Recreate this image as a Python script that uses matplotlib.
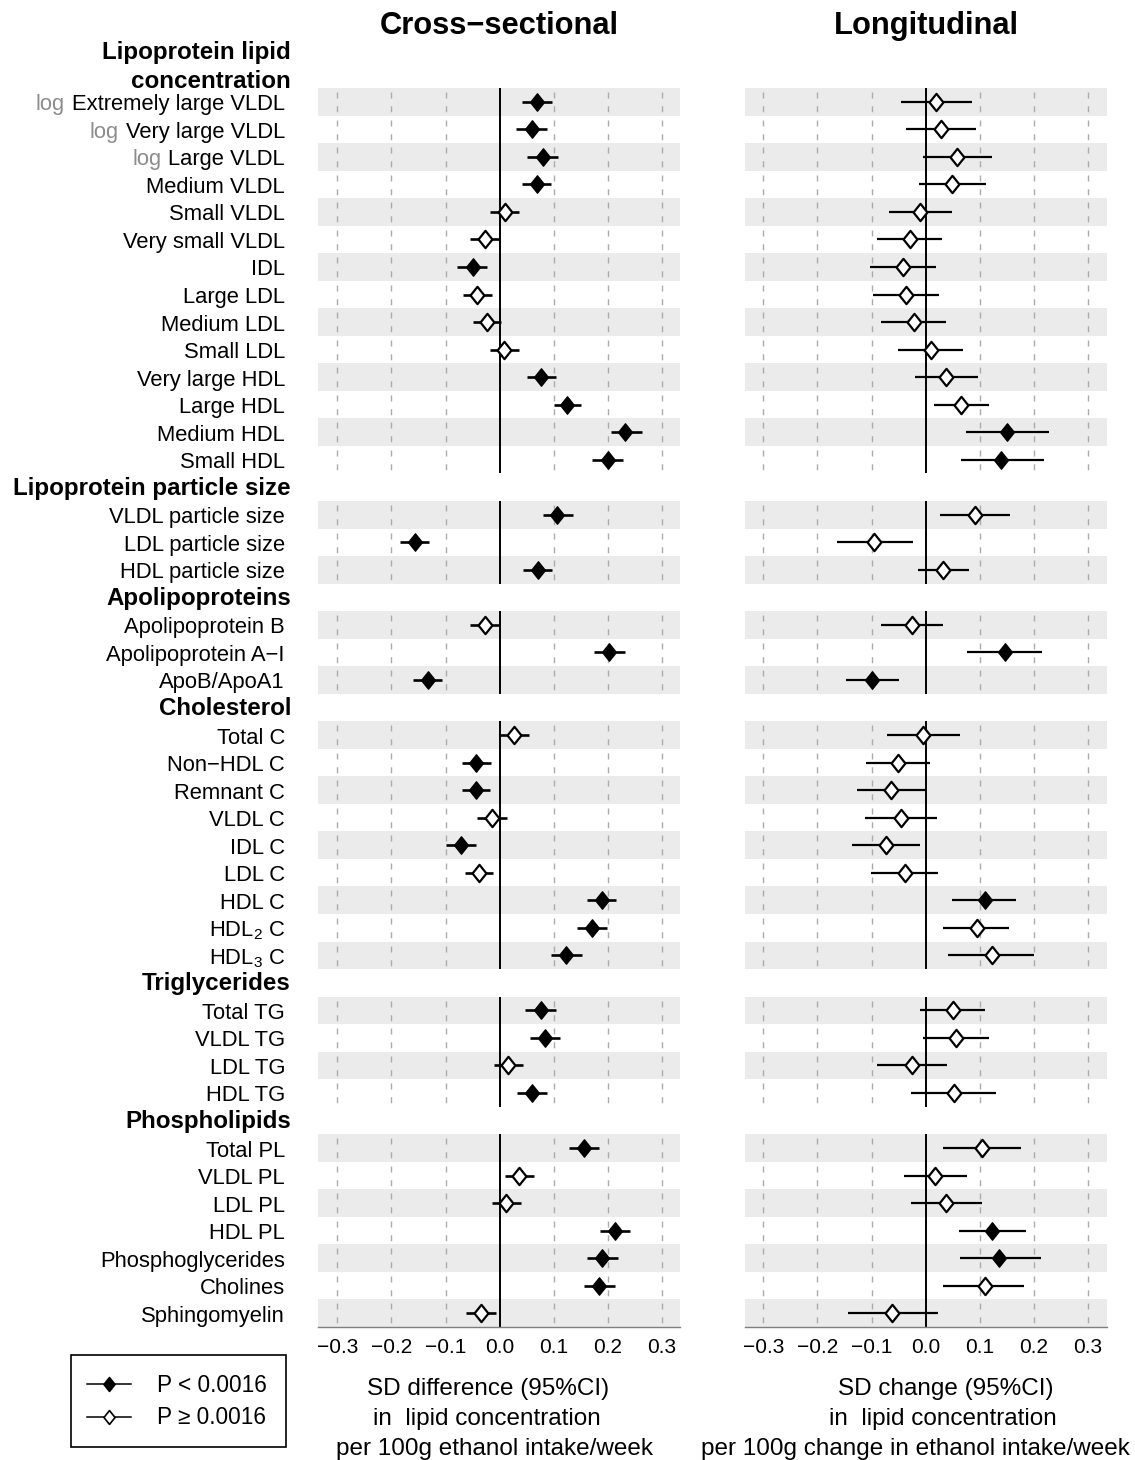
import numpy as np
import matplotlib
matplotlib.use("Agg")
import matplotlib.pyplot as plt
from matplotlib.path import Path
from matplotlib.lines import Line2D
from matplotlib.patches import Rectangle

plt.rcParams['font.family'] = ['Liberation Sans', 'DejaVu Sans']
plt.rcParams['mathtext.fontset'] = 'custom'
plt.rcParams['mathtext.rm'] = 'Liberation Sans'
plt.rcParams['lines.scale_dashes'] = False

# ---------------- data ----------------
headers = ["Lipoprotein lipid concentration", "Lipoprotein particle size",
           "Apolipoproteins", "Cholesterol", "Triglycerides", "Phospholipids"]
group_sizes = [14, 3, 3, 9, 4, 7]

labels = ["Extremely large VLDL", "Very large VLDL", "Large VLDL", "Medium VLDL",
          "Small VLDL", "Very small VLDL", "IDL", "Large LDL", "Medium LDL",
          "Small LDL", "Very large HDL", "Large HDL", "Medium HDL", "Small HDL",
          "VLDL particle size", "LDL particle size", "HDL particle size",
          "Apolipoprotein B", "Apolipoprotein A\u2212I", "ApoB/ApoA1",
          "Total C", "Non\u2212HDL C", "Remnant C", "VLDL C", "IDL C", "LDL C",
          "HDL C", r"HDL$_\mathregular{2}$ C", r"HDL$_\mathregular{3}$ C",
          "Total TG", "VLDL TG", "LDL TG", "HDL TG",
          "Total PL", "VLDL PL", "LDL PL", "HDL PL", "Phosphoglycerides",
          "Cholines", "Sphingomyelin"]
log_scaled = [True, True, True] + [False] * 37

# Cross-sectional: estimate, lower and upper 95% CI, significance
cs_est = [0.069, 0.060, 0.080, 0.069, 0.010, -0.027, -0.050, -0.042, -0.023, 0.008,
          0.077, 0.125, 0.232, 0.201,
          0.107, -0.156, 0.071,
          -0.027, 0.203, -0.133,
          0.027, -0.043, -0.043, -0.014, -0.071, -0.038, 0.190, 0.171, 0.123,
          0.076, 0.084, 0.016, 0.061,
          0.156, 0.036, 0.012, 0.214, 0.190, 0.184, -0.034]
cs_lo = [0.041, 0.031, 0.051, 0.042, -0.018, -0.055, -0.078, -0.068, -0.049, -0.018,
         0.051, 0.101, 0.206, 0.171,
         0.080, -0.185, 0.044,
         -0.055, 0.174, -0.161,
         -0.001, -0.069, -0.069, -0.042, -0.099, -0.064, 0.162, 0.144, 0.095,
         0.048, 0.056, -0.011, 0.032,
         0.128, 0.010, -0.014, 0.186, 0.162, 0.156, -0.062]
cs_hi = [0.097, 0.087, 0.108, 0.096, 0.036, 0.000, -0.023, -0.014, 0.003, 0.036,
         0.104, 0.151, 0.264, 0.228,
         0.136, -0.130, 0.097,
         0.000, 0.232, -0.106,
         0.055, -0.016, -0.017, 0.014, -0.043, -0.012, 0.216, 0.198, 0.152,
         0.104, 0.111, 0.044, 0.088,
         0.184, 0.064, 0.040, 0.241, 0.219, 0.214, -0.006]
cs_sig = [1, 1, 1, 1, 0, 0, 1, 0, 0, 0, 1, 1, 1, 1,
          1, 1, 1,
          0, 1, 1,
          0, 1, 1, 0, 1, 0, 1, 1, 1,
          1, 1, 0, 1,
          1, 0, 0, 1, 1, 1, 0]

# Longitudinal: estimate, lower and upper 95% CI, significance
lg_est = [0.020, 0.029, 0.059, 0.049, -0.010, -0.029, -0.042, -0.036, -0.021, 0.010,
          0.038, 0.065, 0.151, 0.139,
          0.092, -0.095, 0.033,
          -0.025, 0.146, -0.099,
          -0.005, -0.051, -0.064, -0.045, -0.073, -0.038, 0.110, 0.095, 0.122,
          0.050, 0.057, -0.026, 0.052,
          0.104, 0.017, 0.038, 0.123, 0.136, 0.110, -0.062]
lg_lo = [-0.045, -0.036, -0.004, -0.013, -0.068, -0.090, -0.102, -0.097, -0.083, -0.051,
         -0.020, 0.015, 0.075, 0.065,
         0.027, -0.164, -0.014,
         -0.082, 0.077, -0.148,
         -0.071, -0.110, -0.127, -0.112, -0.136, -0.101, 0.048, 0.033, 0.042,
         -0.010, -0.004, -0.090, -0.027,
         0.032, -0.040, -0.027, 0.062, 0.064, 0.032, -0.144]
lg_hi = [0.086, 0.094, 0.122, 0.111, 0.049, 0.030, 0.019, 0.025, 0.038, 0.069,
         0.097, 0.117, 0.228, 0.219,
         0.157, -0.024, 0.080,
         0.033, 0.215, -0.050,
         0.064, 0.008, 0.001, 0.021, -0.010, 0.023, 0.168, 0.155, 0.200,
         0.110, 0.117, 0.039, 0.130,
         0.176, 0.076, 0.104, 0.185, 0.213, 0.182, 0.023]
lg_sig = [0, 0, 0, 0, 0, 0, 0, 0, 0, 0, 0, 0, 1, 1,
          0, 0, 0,
          0, 1, 1,
          0, 0, 0, 0, 0, 0, 1, 0, 0,
          0, 0, 0, 0,
          0, 0, 0, 1, 1, 0, 0]

ticks = [-0.3, -0.2, -0.1, 0.0, 0.1, 0.2, 0.3]
tick_labels = ["\u22120.3", "\u22120.2", "\u22120.1", "0.0", "0.1", "0.2", "0.3"]

legend_labels = ["P < 0.0016", "P \u2265 0.0016"]

# ---------------- layout ----------------
W, H = 1135, 1460
fig = plt.figure(figsize=(W / 100, H / 100), dpi=100)

ax_top, ax_bot = 88, 1327
n_slots = 45
slot_px = (ax_bot - ax_top) / n_slots
ax_l = fig.add_axes([318 / W, 1 - ax_bot / H, 362 / W, (ax_bot - ax_top) / H])
ax_r = fig.add_axes([745 / W, 1 - ax_bot / H, 362 / W, (ax_bot - ax_top) / H])

# slot positions: a header slot precedes each group
row_y, header_y, group_rows = [], [], []
slot = 0
for g, n in enumerate(group_sizes):
    header_y.append(slot)
    slot += 1
    rows = list(range(slot, slot + n))
    group_rows.append(rows)
    row_y.extend(rows)
    slot += n
row_y = np.array(row_y, dtype=float)

diamond = Path([(0, 1), (0.8, 0), (0, -1), (-0.8, 0), (0, 1)],
               [Path.MOVETO, Path.LINETO, Path.LINETO, Path.LINETO, Path.CLOSEPOLY])


def draw_panel(ax, est, lo, hi, sig, xlim, lw):
    est, lo, hi = np.array(est), np.array(lo), np.array(hi)
    sig = np.array(sig, dtype=bool)
    for rows in group_rows:
        for j, r in enumerate(rows):
            if j % 2 == 0:
                ax.axhspan(r - 0.5, r + 0.5, color='#EBEBEB', lw=0, zorder=0)
            ax.vlines(ticks[:3] + ticks[4:], r - 0.5, r + 0.5, colors='#ABABAB',
                      linewidth=1.0, linestyles=[(7.0, (4.3, 5.6))], zorder=1)
        ax.vlines(0, rows[0] - 0.5, rows[-1] + 0.5, colors='black',
                  linewidth=1.4, zorder=2)
    ax.hlines(row_y, lo, hi, colors='black', linewidth=lw, zorder=3)
    ax.plot(est[sig], row_y[sig], linestyle='none', marker=diamond, ms=12.5,
            mfc='black', mec='black', mew=1.0, zorder=4)
    ax.plot(est[~sig], row_y[~sig], linestyle='none', marker=diamond, ms=12.5,
            mfc='white', mec='black', mew=1.6, zorder=4)
    ax.set_xlim(*xlim)
    ax.set_ylim(n_slots + 0.5, 0.5)
    ax.set_yticks([])
    ax.set_xticks(ticks)
    ax.set_xticklabels(tick_labels, fontsize=15)
    ax.tick_params(axis='x', length=0, pad=8)
    for s in ['top', 'left', 'right']:
        ax.spines[s].set_visible(False)
    ax.spines['bottom'].set_color('#7F7F7F')
    ax.spines['bottom'].set_linewidth(1.0)


draw_panel(ax_l, cs_est, cs_lo, cs_hi, cs_sig, (-0.336, 0.334), 1.9)
draw_panel(ax_r, lg_est, lg_lo, lg_hi, lg_sig, (-0.334, 0.3355), 1.6)

# row labels and section headers
lab_x = (285 - 318) / 362
head_x = (291 - 318) / 362
lab_shift = 3 / slot_px
ytr = ax_l.get_yaxis_transform()
for lab, y, is_log in zip(labels, row_y, log_scaled):
    t = ax_l.text(lab_x, y + lab_shift, lab, transform=ytr, ha='right', va='center',
                  fontsize=15.8, color='black', clip_on=False)
    if is_log:
        ax_l.annotate("log", xy=(0, 0), xycoords=t, xytext=(-5, 0),
                      textcoords='offset points', ha='right', va='bottom',
                      fontsize=15.8, color='#8C8C8C', annotation_clip=False)


def px_to_slot(py):
    return 0.5 - (ax_top - py) / slot_px


ax_l.text(head_x, px_to_slot(53), "Lipoprotein lipid", transform=ytr, ha='right',
          va='center', fontsize=17.4, fontweight='bold', clip_on=False)
ax_l.text(head_x, px_to_slot(82), "concentration", transform=ytr, ha='right',
          va='center', fontsize=17.4, fontweight='bold', clip_on=False)
for h, y in zip(headers[1:], header_y[1:]):
    ax_l.text(head_x, y + 1 / slot_px, h, transform=ytr, ha='right', va='center',
              fontsize=17.4, fontweight='bold', clip_on=False)

# column titles
fig.text(499 / W, 1 - 26 / H, "Cross\u2212sectional", ha='center', va='center',
         fontsize=22.2, fontweight='bold')
fig.text(926 / W, 1 - 26 / H, "Longitudinal", ha='center', va='center',
         fontsize=22.2, fontweight='bold')

# axis captions
left_caption = [("SD difference (95%CI)", 488), ("in  lipid concentration", 487),
                ("per 100g ethanol intake/week", 495)]
right_caption = [("SD change (95%CI)", 946), ("in  lipid concentration", 943),
                 ("per 100g change in ethanol intake/week", 915)]
for (txt, cx), py in zip(left_caption, [1389, 1419, 1449]):
    fig.text(cx / W, 1 - py / H, txt, ha='center', va='center', fontsize=17.5)
for (txt, cx), py in zip(right_caption, [1389, 1419, 1449]):
    fig.text(cx / W, 1 - py / H, txt, ha='center', va='center', fontsize=17.5)

# legend box drawn in figure coordinates
fig.patches.append(Rectangle((71 / W, 1 - 1447 / H), (286 - 71) / W, (1447 - 1355) / H,
                             transform=fig.transFigure, fill=False,
                             edgecolor='black', linewidth=1.2))
for (lab, fill), py in zip(zip(legend_labels, ['black', 'white']), [1384, 1417]):
    yf = 1 - py / H
    fig.lines.append(Line2D([87 / W, 131 / W], [yf, yf], transform=fig.transFigure,
                            color='black', lw=1.1))
    fig.lines.append(Line2D([109 / W], [yf], transform=fig.transFigure,
                            linestyle='none', marker=diamond, ms=10,
                            mfc=fill, mec='black', mew=1.2))
    fig.text(157 / W, yf - 1 / H, lab, ha='left', va='center', fontsize=16.3)

fig.savefig("out.png", dpi=100)
